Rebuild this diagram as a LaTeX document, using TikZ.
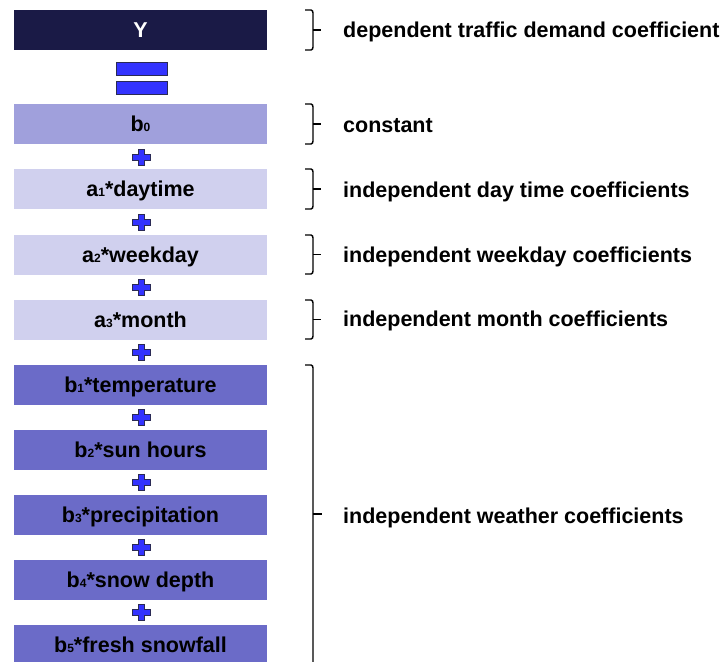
\documentclass[tikz,border=0pt]{standalone}
\usepackage{fontspec}
\setmainfont{Liberation Sans}
\begin{document}
\begin{tikzpicture}[x=1pt,y=-1pt,
  box/.style={minimum width=253pt,minimum height=40pt,inner sep=0pt,text height=15.4pt,text depth=0pt,font=\fontsize{21.5}{23}\selectfont\bfseries},
  ybox/.style={box,fill=ydark,text=white},
  cbox/.style={box,fill=cpurple},
  abox/.style={box,fill=alight},
  wbox/.style={box,fill=wblue},
  lbl/.style={anchor=west,inner sep=0pt,text height=15.4pt,text depth=0pt,font=\fontsize{21.5}{23}\selectfont\bfseries},
  brc/.style={draw=black,line width=1.4pt},
  opfill/.style={fill=opblue,draw=opedge,line width=0.8pt},
  plus/.pic={\path[opfill] (-3,-8) -- (3,-8) -- (3,-3) -- (9,-3) -- (9,3) -- (3,3) -- (3,8) -- (-3,8) -- (-3,3) -- (-9,3) -- (-9,-3) -- (-3,-3) -- cycle;}
]
\definecolor{ydark}{HTML}{1A1A46}
\definecolor{cpurple}{HTML}{A0A0DC}
\definecolor{alight}{HTML}{D0D0EE}
\definecolor{wblue}{HTML}{6B6BC8}
\definecolor{opblue}{HTML}{3333FF}
\definecolor{opedge}{HTML}{2A2A55}
\newcommand{\sub}[1]{{\fontsize{12}{12}\selectfont #1}}
\useasboundingbox (0,0) rectangle (725,661);
\clip (0,0) rectangle (725,661);
% boxes
\node[ybox] (Y) at (140.5,30) {Y};
\node[cbox] (b0) at (140.5,124) {b\sub{0}};
\node[abox] (a1) at (140.5,189) {a\sub{1}*daytime};
\node[abox] (a2) at (140.5,254.5) {a\sub{2}*weekday};
\node[abox] (a3) at (140.5,319.5) {a\sub{3}*month};
\node[wbox] (w1) at (140.5,384.5) {b\sub{1}*temperature};
\node[wbox] (w2) at (140.5,449.5) {b\sub{2}*sun hours};
\node[wbox] (w3) at (140.5,515) {b\sub{3}*precipitation};
\node[wbox] (w4) at (140.5,579.5) {b\sub{4}*snow depth};
\node[wbox] (w5) at (140.5,645) {b\sub{5}*fresh snowfall};
% equals
\path[opfill] (116,62) rectangle (167,75);
\path[opfill] (116,81) rectangle (167,94);
% plus signs
\foreach \yy in {157,222,287,352,417,482,547,612} \pic at (141,\yy) {plus};
% braces
\foreach \ya/\yb in {10/50,104/144,169/209,235/274,300/339} {
  \draw[brc] (305,\ya) -- (311,\ya) to[out=0,in=90] (313,\ya+3) -- (313,\yb-3) to[out=-90,in=0] (311,\yb) -- (305,\yb);
  \draw[brc] (313,{(\ya+\yb)/2}) -- (321,{(\ya+\yb)/2});
}
\draw[brc] (305,365) -- (311,365) to[out=0,in=90] (313,368) -- (313,670);
\draw[brc] (313,514) -- (322,514);
% labels
\node[lbl] (l0) at (343,30) {dependent traffic demand coefficient};
\node[lbl] (l1) at (343,125) {constant};
\node[lbl] (l2) at (343,190) {independent day time coefficients};
\node[lbl] (l3) at (343,255) {independent weekday coefficients};
\node[lbl] (l4) at (343,319) {independent month coefficients};
\node[lbl] (l5) at (343,516) {independent weather coefficients};
\end{tikzpicture}
\end{document}
